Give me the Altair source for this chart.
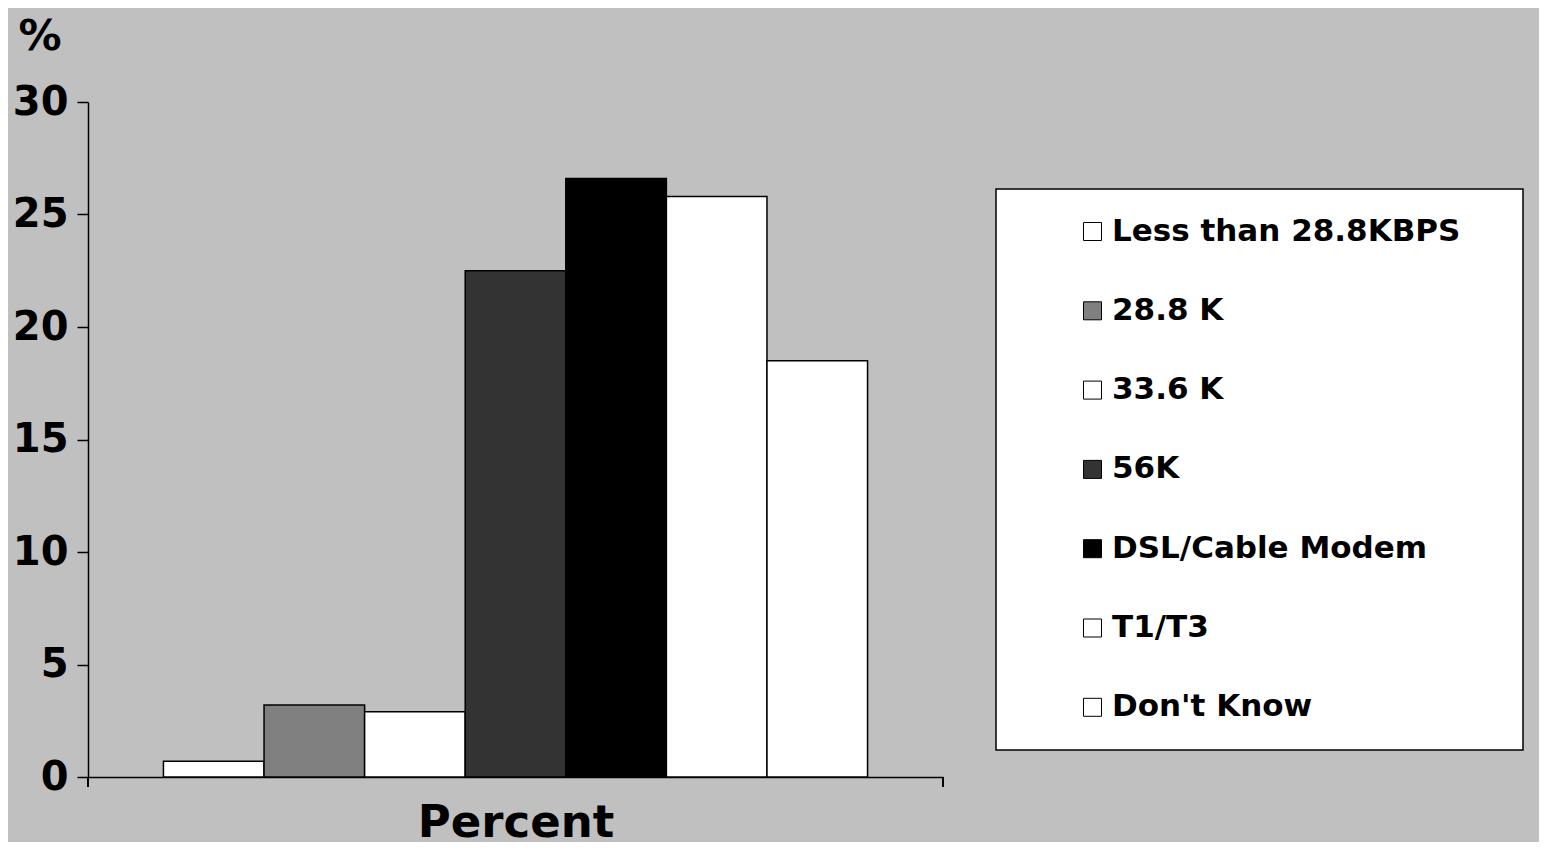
import altair as alt
import pandas as pd

categories = ["Less than 28.8KBPS", "28.8 K", "33.6 K", "56K", "DSL/Cable Modem", "T1/T3", "Don't Know"]
values = [0.7, 3.2, 2.9, 22.5, 26.6, 25.8, 18.5]
colors = ["#FFFFFF", "#808080", "#FFFFFF", "#333333", "#000000", "#FFFFFF", "#FFFFFF"]
y_ticks = [0, 5, 10, 15, 20, 25, 30]

df = pd.DataFrame({"category": categories, "value": values})

FONT = "DejaVu Sans"
W, H = 855, 675

bars = alt.Chart(df).mark_bar(stroke="black", strokeWidth=1.5).encode(
    x=alt.X(
        "category:N",
        sort=categories,
        scale=alt.Scale(paddingInner=0, paddingOuter=0.75),
        axis=alt.Axis(
            labels=False, ticks=False, title="Percent",
            titleFont=FONT, titleFontSize=45, titleFontWeight="bold", titleColor="black",
            titlePadding=23, domainColor="black", domainWidth=1.5,
        ),
    ),
    y=alt.Y(
        "value:Q",
        scale=alt.Scale(domain=[0, 30], nice=False),
        axis=alt.Axis(
            values=y_ticks, grid=False, tickSize=11, tickColor="black", tickWidth=1.5,
            domainColor="black", domainWidth=1.5,
            labelFont=FONT, labelFontSize=40, labelFontWeight="bold", labelColor="black",
            labelPadding=9,
            title="%", titleAngle=0, titleAlign="left", titleBaseline="alphabetic",
            titleX=-70, titleY=-53, titleFont=FONT, titleFontSize=43, titleFontWeight="bold",
            titleColor="black",
        ),
    ),
    fill=alt.Fill(
        "category:N",
        scale=alt.Scale(domain=categories, range=colors),
        legend=alt.Legend(
            title=None, orient="none", legendX=908, legendY=87,
            fillColor="white", strokeColor="black",
            padding=27, rowPadding=47.3,
            symbolType="square", symbolSize=324, symbolStrokeColor="black", symbolStrokeWidth=1,
            symbolOffset=54, labelOffset=4,
            labelFont=FONT, labelFontSize=31, labelFontWeight="bold", labelColor="black",
            labelExpr="datum.label + '\u00a0\u2800'",
            labelLimit=1000,
        ),
    ),
)

tick_left = alt.Chart(df).mark_rule(color="black", strokeWidth=1.5).encode(
    x=alt.value(0), y=alt.value(H), y2=alt.value(H + 10)
)
tick_right = alt.Chart(df).mark_rule(color="black", strokeWidth=1.5).encode(
    x=alt.value(W), y=alt.value(H), y2=alt.value(H + 10)
)

chart = alt.layer(bars, tick_left, tick_right).properties(
    width=W, height=H,
    background="#C0C0C0",
    autosize=alt.AutoSizeParams(type="none"),
    padding={"left": 80, "top": 94, "right": 596, "bottom": 65},
).configure_view(strokeWidth=0).configure_legend(strokeWidth=1.5)

chart.save("out.html", embed_options={"renderer": "svg", "actions": False})
